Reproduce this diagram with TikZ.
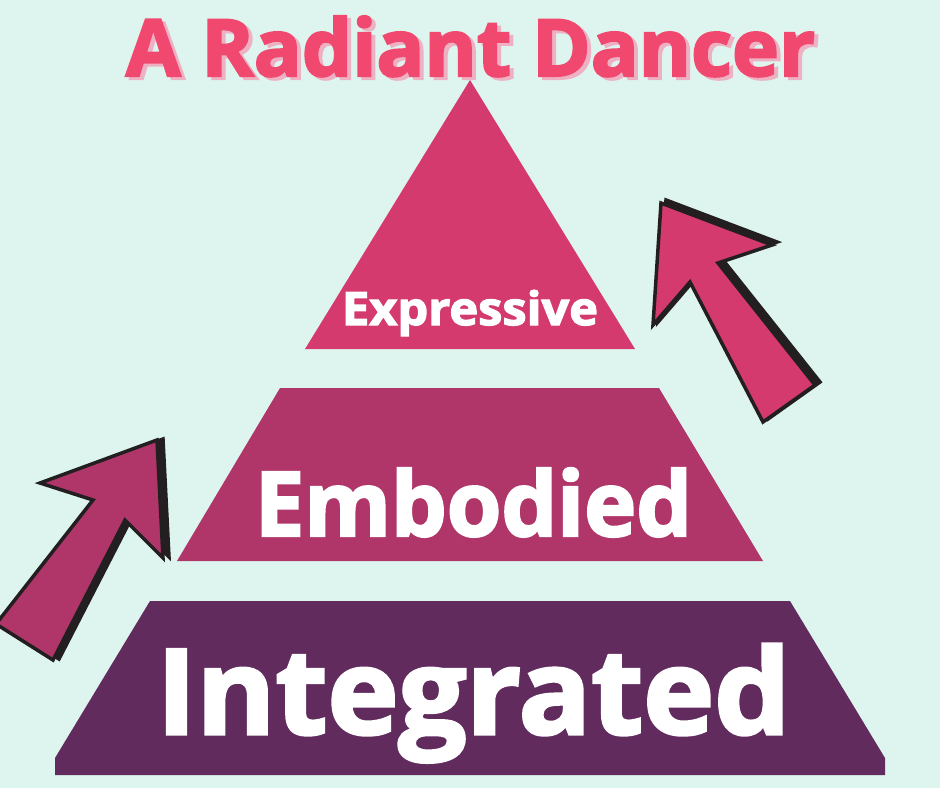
\documentclass[tikz,border=0pt]{standalone}
\usepackage{fontspec}
\setmainfont{Open Sans}[BoldFeatures={FakeBold=2.6}]
\usepackage{graphicx}
\usepackage{tikz}
\usetikzlibrary{positioning}

\definecolor{mint}{HTML}{DEF5EF}
\definecolor{titlepink}{HTML}{F0486F}
\definecolor{titleshade}{HTML}{EDB1C3}
\definecolor{tiertop}{HTML}{D53A6F}
\definecolor{tiermid}{HTML}{B0366A}
\definecolor{tierlow}{HTML}{612B5E}
\definecolor{inkblack}{HTML}{231F20}

\tikzset{
  label text/.style={inner sep=0pt, anchor=base, text=white, font=\bfseries},
  arrow body/.style={draw=inkblack, line width=3.5pt, line join=miter},
  arrow shade/.style={fill=inkblack, draw=inkblack, line width=3.5pt}
}

\begin{document}
\begin{tikzpicture}[x=1pt, y=-1pt]
    % Background
    \fill[mint] (0,0) rectangle (940,788);
    \useasboundingbox (0,0) rectangle (940,788);

    % Title
    \node[inner sep=0pt, anchor=base, text=titleshade, font=\bfseries] (title_shade) at (474.5,79)
        {\resizebox{689pt}{60pt}{A Radiant Dancer}};
    \node[inner sep=0pt, anchor=base, text=titlepink, font=\bfseries] (title) at (470.5,76)
        {\resizebox{689pt}{60pt}{A Radiant Dancer}};

    % Pyramid tiers
    \fill[tiertop] (470,80) -- (635,349) -- (305,349) -- cycle;
    \fill[tiermid] (280,388) -- (659,388) -- (763,561) -- (177,561) -- cycle;
    \fill[tierlow] (150,601) -- (790,601) -- (885,758) -- (885,775) -- (55,775) -- (55,758) -- cycle;

    \node[label text] (T_EX) at (470,325) {\resizebox{256pt}{35pt}{Expressive}};
    \node[label text] (T_EM) at (473.5,536) {\resizebox{437pt}{68pt}{Embodied}};
    \node[label text] (T_IN) at (473.5,734) {\resizebox{633pt}{90pt}{Integrated}};

    % Right arrow
    \filldraw[arrow shade, xshift=5pt, yshift=3pt]
        (661,203) -- (772,245) -- (718,263) -- (815,385) -- (763,422) -- (690,282) -- (653,325) -- cycle;
    \filldraw[arrow body, fill=tiertop]
        (661,203) -- (772,245) -- (718,263) -- (815,385) -- (763,422) -- (690,282) -- (653,325) -- cycle;

    % Left arrow
    \filldraw[arrow shade, xshift=6pt, yshift=1pt]
        (157,440) -- (163,558) -- (125,520) -- (53,660) -- (-4,624) -- (93,500) -- (40,483) -- cycle;
    \filldraw[arrow body, fill=tiermid]
        (157,440) -- (163,558) -- (125,520) -- (53,660) -- (-4,624) -- (93,500) -- (40,483) -- cycle;
\end{tikzpicture}
\end{document}
